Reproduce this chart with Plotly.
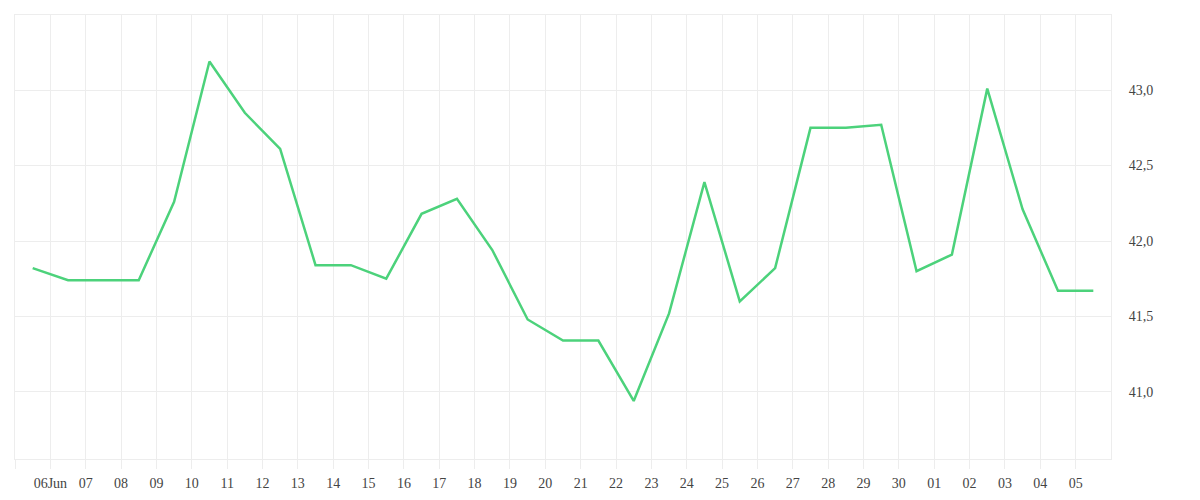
import plotly.graph_objects as go
import pandas as pd

# Data (daily values, plotted at noon of each day)
start_date = "2024-06-05 12:00"
values = [41.82, 41.74, 41.74, 41.74, 42.26, 43.19, 42.85, 42.61, 41.84, 41.84,
          41.75, 42.18, 42.28, 41.94, 41.48, 41.34, 41.34, 40.94, 41.52, 42.39,
          41.60, 41.82, 42.75, 42.75, 42.77, 41.80, 41.91, 43.01, 42.21, 41.67,
          41.67]

tick_start = "2024-06-05"
tick_labels = ["", "06Jun", "07", "08", "09", "10", "11", "12", "13", "14", "15",
               "16", "17", "18", "19", "20", "21", "22", "23", "24", "25", "26",
               "27", "28", "29", "30", "01", "02", "03", "04", "05"]

y_tick_vals = [41.0, 41.5, 42.0, 42.5, 43.0]
y_tick_text = ["41,0", "41,5", "42,0", "42,5", "43,0"]

dates = pd.date_range(start_date, periods=len(values), freq="D")
tick_dates = pd.date_range(tick_start, periods=len(tick_labels), freq="D")

fig = go.Figure()
fig.add_trace(go.Scatter(
    x=dates, y=values, mode="lines",
    line=dict(color="#4cd27b", width=2.5),
    hoverinfo="x+y",
))

grid = "#ededed"
fig.update_layout(
    width=1200, height=500,
    margin=dict(l=7, r=97, t=7, b=49),
    plot_bgcolor="white", paper_bgcolor="white",
    showlegend=False,
    font=dict(family="Liberation Serif, serif", size=14, color="#444"),
)
fig.update_xaxes(
    type="date",
    range=["2024-06-05", "2024-07-06"],
    tickvals=tick_dates, ticktext=tick_labels,
    showgrid=True, gridcolor=grid, gridwidth=1,
    showline=True, linecolor=grid, linewidth=1, mirror=True,
    ticks="outside", ticklen=9, tickcolor=grid, tickwidth=1,
    ticklabelstandoff=2,
    zeroline=False,
)
fig.update_yaxes(
    side="right",
    range=[40.555, 43.498],
    tickvals=y_tick_vals, ticktext=y_tick_text,
    showgrid=True, gridcolor=grid, gridwidth=1,
    showline=True, linecolor=grid, linewidth=1, mirror=True,
    ticks="", ticklabelstandoff=14,
    zeroline=False,
)

fig.write_html("out.html")
